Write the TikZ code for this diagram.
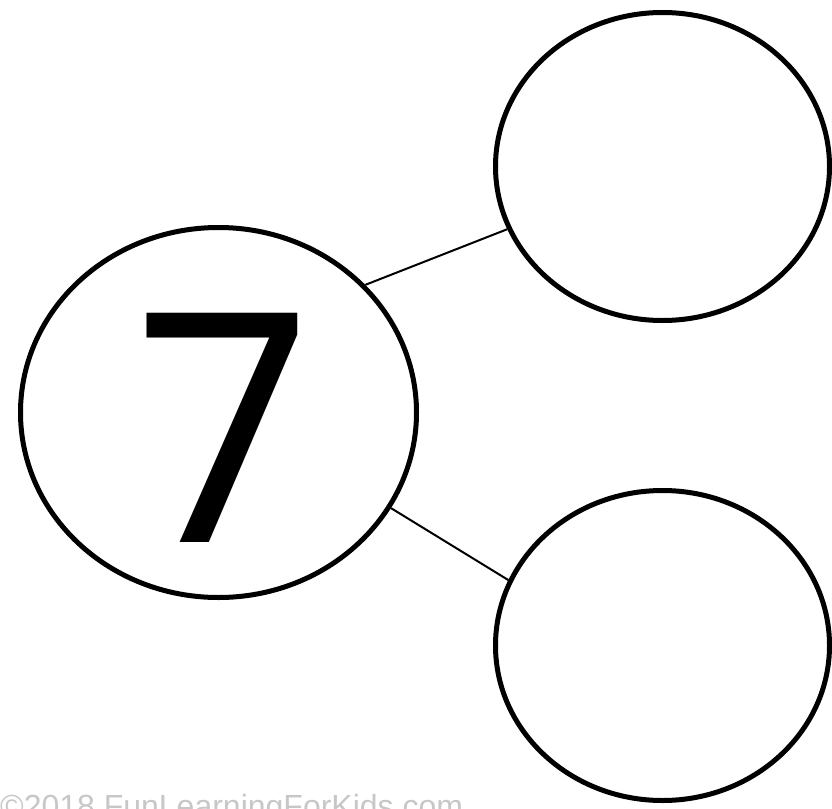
\documentclass[tikz,border=0pt]{standalone}
\usepackage{fontspec}
\setmainfont{Liberation Sans}
\newfontfamily\chiffre{Poppins}
\usetikzlibrary{shapes.geometric}

\begin{document}
\begin{tikzpicture}[x=1pt, y=-1pt,
	bulle/.style={draw, ellipse, line width=5pt, inner sep=0pt},
	trait/.style={line width=2pt}]
	\useasboundingbox (0,0) rectangle (832,808);
	% Bulles
	\node[bulle, minimum width=396pt, minimum height=370pt] (tout) at (218.5,412.5) {};
	\node[bulle, minimum width=334pt, minimum height=308pt] (haut) at (662.5,166.5) {};
	\node[bulle, minimum width=334pt, minimum height=310pt] (bas) at (662.5,645.5) {};
	
	% Nombre
	\node[anchor=base, inner sep=0pt, font=\chiffre\fontsize{318}{318}\selectfont] (sept) at (223.5,542) {7};
	
	% Traits
	\draw[trait] (tout.41.7) -- (haut.202.2);
	\draw[trait] (tout.-29.3) -- (bas.157);
	
	% Copyright
	\node[anchor=base west, inner sep=0pt, text=black!22, font=\fontsize{32}{32}\selectfont] (copy) at (0,817) {©2018 FunLearningForKids.com};
\end{tikzpicture}
\end{document}
